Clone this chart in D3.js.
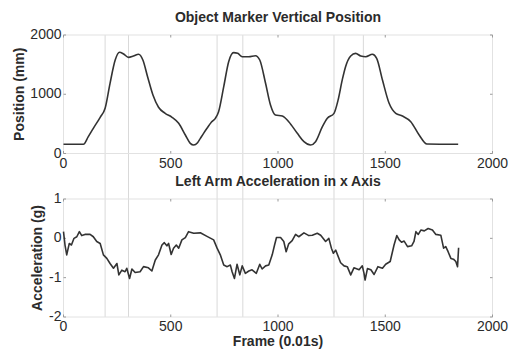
<!DOCTYPE html>
<html>
<head>
<meta charset="utf-8">
<script src="https://cdn.jsdelivr.net/npm/d3@7"></script>
<style>
  html, body { margin: 0; padding: 0; background: #fff; }
  svg { display: block; font-family: "Liberation Sans", Arial, sans-serif; }
</style>
</head>
<body>
<svg id="chart" width="510" height="352"></svg>
<script>
// Object marker vertical position (mm) per frame
const posFrames = [
  0, 93, 115, 139, 171, 194, 217, 241, 261, 280,
  303, 326, 350, 370, 392, 417, 443, 474, 506, 537,
  568, 591, 607, 625, 638, 653, 669, 690, 708, 723,
  747, 770, 793, 812, 833, 864, 895, 915, 942, 965,
  988, 1020, 1050, 1090, 1121, 1152, 1175, 1207, 1230, 1261,
  1280, 1300, 1315, 1339, 1362, 1386, 1409, 1440, 1460, 1487,
  1518, 1549, 1580, 1619, 1658, 1694, 1840
];
const posValues = [
  155, 155, 280, 425, 611, 763, 1185, 1578, 1708, 1679,
  1623, 1645, 1674, 1578, 1296, 987, 780, 678, 611, 509,
  312, 172, 143, 183, 256, 340, 425, 530, 594, 706,
  1128, 1550, 1702, 1690, 1634, 1634, 1651, 1578, 1185, 819,
  650, 633, 537, 341, 200, 143, 200, 453, 594, 678,
  900, 1250, 1465, 1645, 1690, 1645, 1634, 1674, 1606, 1240,
  847, 678, 633, 537, 312, 160, 155
];

// Left arm acceleration along x (g) per frame
const accFrames = [
  0, 7, 15, 27, 37, 49, 62, 74, 85, 100,
  124, 139, 155, 171, 186, 202, 217, 233, 249, 258,
  272, 287, 295, 308, 319, 334, 357, 373, 396, 412,
  428, 443, 459, 470, 482, 490, 502, 513, 526, 537,
  552, 568, 583, 607, 638, 669, 700, 716, 731, 747,
  763, 778, 786, 797, 809, 822, 833, 848, 864, 879,
  899, 915, 926, 942, 957, 973, 984, 993, 1012, 1027,
  1038, 1050, 1066, 1082, 1097, 1121, 1144, 1160, 1183, 1199,
  1222, 1237, 1249, 1258, 1269, 1292, 1308, 1323, 1339, 1354,
  1378, 1393, 1401, 1406, 1417, 1433, 1448, 1466, 1487, 1502,
  1523, 1541, 1554, 1565, 1576, 1588, 1604, 1623, 1634, 1643,
  1654, 1666, 1682, 1700, 1720, 1736, 1759, 1772, 1782, 1793,
  1806, 1818, 1829, 1837, 1842
];
const accValues = [
  0.17, -0.17, -0.42, -0.13, -0.17, 0, 0.04, 0.17, 0.07, 0.1,
  0.1, 0.04, -0.08, -0.13, -0.42, -0.51, -0.64, -0.76, -0.64, -0.93,
  -0.81, -0.85, -0.76, -1.02, -0.78, -0.87, -0.85, -0.72, -0.75, -0.83,
  -0.55, -0.42, -0.17, -0.11, -0.19, -0.13, -0.41, -0.25, -0.17, -0.25,
  -0.04, 0.02, 0.17, 0.13, 0.14, 0.05, -0.04, -0.25, -0.42, -0.68,
  -0.72, -0.68, -0.85, -1.02, -0.66, -0.93, -0.7, -0.89, -0.83, -0.8,
  -0.89, -0.66, -0.78, -0.7, -0.68, -0.42, -0.17, 0.02, 0.02, -0.08,
  -0.34, -0.14, -0.06, 0.1, 0.04, 0.14, 0.07, 0.08, 0.13, 0.08,
  -0.08, 0, -0.25, -0.38, -0.3, -0.62, -0.7, -0.72, -0.93, -0.75,
  -0.8, -0.7, -0.89, -1.06, -0.77, -0.8, -0.92, -0.72, -0.76, -0.66,
  -0.59, -0.17, 0.07, -0.04, -0.1, -0.07, -0.21, -0.19, -0.08, 0.17,
  0.1, 0.21, 0.19, 0.25, 0.21, 0.1, 0.08, -0.25, -0.21, -0.34,
  -0.51, -0.53, -0.59, -0.72, -0.24
];

// Event frames marked by vertical guide lines across both panels
const eventFrames = [194, 303, 716, 836, 1261, 1398];

const xTicks = [0, 500, 1000, 1500, 2000];
const posTicks = [0, 1000, 2000];
const accTicks = [-2, -1, 0, 1];

const svg = d3.select("#chart");
const left = 63.5, right = 492.5;

const x = d3.scaleLinear().domain([0, 2000]).range([left, right]);
const yPos = d3.scaleLinear().domain([0, 2000]).range([153.5, 35]);
const yAcc = d3.scaleLinear().domain([-2, 1]).range([317, 199]);

const boxColor = "#e2e2e2";
const tickColor = "#9a9a9a";
const textColor = "#2b2b2b";
const lineColor = "#333";

// guide lines spanning both panels
svg.append("g").selectAll("line").data(eventFrames).join("line")
  .attr("x1", d => x(d)).attr("x2", d => x(d))
  .attr("y1", yPos.range()[1]).attr("y2", yAcc.range()[0])
  .attr("stroke", "#d9d9d9").attr("stroke-width", 1);

function panel(y, yTicks, title, ylabel, ylabelX, frames, values, curve, xlabel) {
  const g = svg.append("g");
  const [yb, yt] = y.range();

  // frame box
  g.append("rect")
    .attr("x", left).attr("y", yt)
    .attr("width", right - left).attr("height", yb - yt)
    .attr("fill", "none").attr("stroke", boxColor).attr("stroke-width", 1);

  // inward ticks on all four sides
  const tl = 2.5;
  xTicks.forEach(t => {
    g.append("line").attr("x1", x(t)).attr("x2", x(t)).attr("y1", yb).attr("y2", yb - tl)
      .attr("stroke", tickColor);
    g.append("line").attr("x1", x(t)).attr("x2", x(t)).attr("y1", yt).attr("y2", yt + tl)
      .attr("stroke", tickColor);
  });
  yTicks.forEach(t => {
    g.append("line").attr("x1", left).attr("x2", left + tl).attr("y1", y(t)).attr("y2", y(t))
      .attr("stroke", tickColor);
    g.append("line").attr("x1", right).attr("x2", right - tl).attr("y1", y(t)).attr("y2", y(t))
      .attr("stroke", tickColor);
  });

  // tick labels
  g.selectAll("text.xt").data(xTicks).join("text")
    .attr("class", "xt")
    .attr("x", d => x(d)).attr("y", yb + 14)
    .attr("text-anchor", "middle").attr("font-size", 14).attr("fill", textColor)
    .text(d => d);
  g.selectAll("text.yt").data(yTicks).join("text")
    .attr("class", "yt")
    .attr("x", left - 2).attr("y", d => y(d) + 4)
    .attr("text-anchor", "end").attr("font-size", 14).attr("fill", textColor)
    .text(d => d);

  // data line
  const line = d3.line()
    .x((d, i) => x(frames[i]))
    .y(d => y(d))
    .curve(curve);
  g.append("path").datum(values)
    .attr("d", line)
    .attr("fill", "none").attr("stroke", lineColor)
    .attr("stroke-width", 1.6).attr("stroke-linejoin", "round");

  // title and labels
  g.append("text")
    .attr("x", (left + right) / 2).attr("y", yt - 13)
    .attr("text-anchor", "middle").attr("font-size", 14).attr("font-weight", "bold")
    .attr("fill", textColor).text(title);
  g.append("text")
    .attr("transform", `translate(${ylabelX},${(yt + yb) / 2}) rotate(-90)`)
    .attr("text-anchor", "middle").attr("font-size", 14).attr("font-weight", "bold")
    .attr("fill", textColor).text(ylabel);
  if (xlabel) {
    g.append("text")
      .attr("x", (left + right) / 2).attr("y", yb + 29)
      .attr("text-anchor", "middle").attr("font-size", 14).attr("font-weight", "bold")
      .attr("fill", textColor).text(xlabel);
  }
}

panel(yPos, posTicks, "Object Marker Vertical Position", "Position (mm)", 24,
  posFrames, posValues, d3.curveMonotoneX, null);
panel(yAcc, accTicks, "Left Arm Acceleration in x Axis", "Acceleration (g)", 42,
  accFrames, accValues, d3.curveLinear, "Frame (0.01s)");
</script>
</body>
</html>
